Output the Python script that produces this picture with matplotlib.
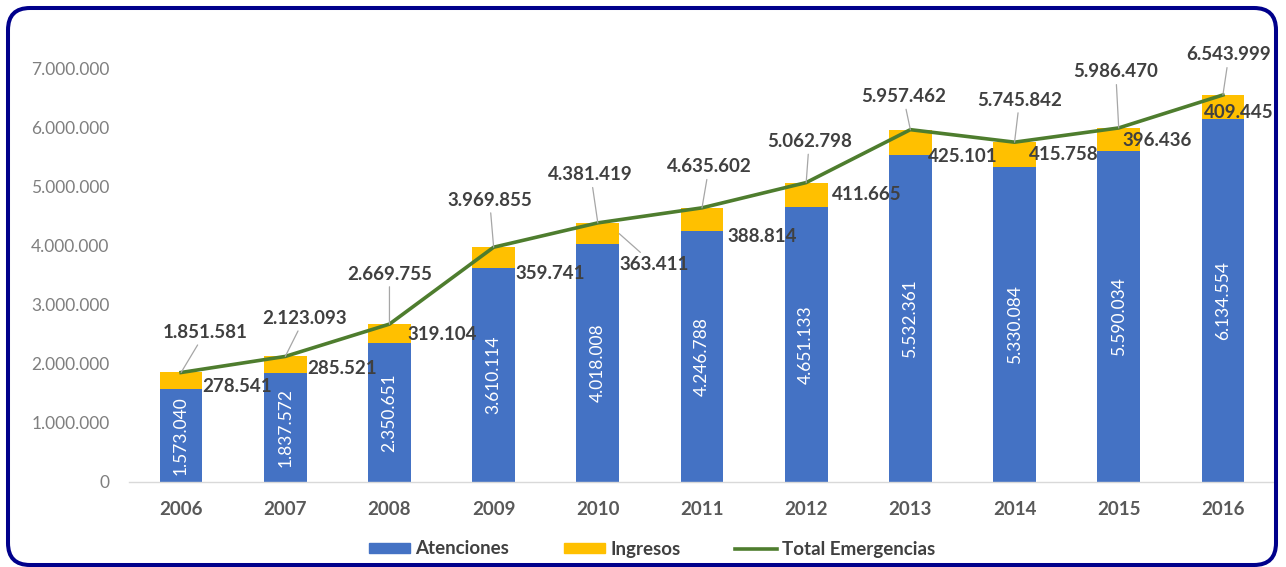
import matplotlib
matplotlib.use("Agg")
import matplotlib.pyplot as plt
from matplotlib.patches import FancyBboxPatch, Patch
from matplotlib.lines import Line2D
from matplotlib.transforms import IdentityTransform
from matplotlib.ticker import FuncFormatter

plt.rcParams["font.family"] = ["Lato", "DejaVu Sans"]

years = ["2006", "2007", "2008", "2009", "2010", "2011", "2012", "2013", "2014", "2015", "2016"]
atenciones = [1573040, 1837572, 2350651, 3610114, 4018008, 4246788, 4651133, 5532361, 5330084, 5590034, 6134554]
ingresos = [278541, 285521, 319104, 359741, 363411, 388814, 411665, 425101, 415758, 396436, 409445]
total = [1851581, 2123093, 2669755, 3969855, 4381419, 4635602, 5062798, 5957462, 5745842, 5986470, 6543999]

# label offsets in pixels (dx, dy)
total_off = [(24, 40), (19, 38), (0, 50), (-4, 47), (-7, 48), (7, 41), (3, 41), (-7, 33), (5, 42), (-3, 56), (6, 40)]
ing_off = [(0, 2), (1, 5), (-3, 8), (0, -5), (35, -31), (4, -6), (4, 12), (-4, -2), (-7, 12), (-18, 11), (-40, 7)]

blue = "#4472C4"
yellow = "#FFC000"
green = "#4E7D2E"
txt = "#404040"
lab_size = 13.5

def fmt(v):
    return f"{int(v):,}".replace(",", ".")

fig = plt.figure(figsize=(12.86, 5.67), dpi=100)
ax = fig.add_axes([129 / 1286, 85 / 567, 1146 / 1286, 414 / 567])

x = list(range(len(years)))
width = 0.41
ax.bar(x, atenciones, width, color=blue, zorder=2)
ax.bar(x, ingresos, width, bottom=atenciones, color=yellow, zorder=2)
ax.plot(x, total, color=green, lw=2.6, zorder=3, solid_joinstyle="round")

ax.set_xlim(-0.5, len(years) - 0.5)
ax.set_ylim(0, 7000000)
ax.set_yticks(range(0, 7000001, 1000000))
ax.yaxis.set_major_formatter(FuncFormatter(lambda v, p: fmt(v)))
ax.set_xticks(x)
ax.set_xticklabels(years, fontweight="bold", color="#595959")
ax.tick_params(axis="x", length=0, pad=14, labelsize=lab_size)
ax.tick_params(axis="y", length=0, pad=14, labelsize=12.5, colors="#7f7f7f")
for s in ["top", "right", "left"]:
    ax.spines[s].set_visible(False)
ax.spines["bottom"].set_color("#d9d9d9")
ax.spines["bottom"].set_linewidth(1)

lead = dict(arrowstyle="-", color="#a6a6a6", lw=0.9, shrinkA=1, shrinkB=0)

for i in x:
    # blue segment values, vertical
    ax.text(i, atenciones[i] / 2, fmt(atenciones[i]), rotation=90, ha="center", va="center",
            color="white", fontsize=12.5, zorder=4)
    # totals above the line
    dx, dy = total_off[i]
    ax.annotate(fmt(total[i]), xy=(i, total[i]), xytext=(dx, dy), textcoords="offset pixels",
                ha="center", va="center", fontsize=lab_size, fontweight="bold", color=txt,
                arrowprops=lead, annotation_clip=False, zorder=5)
    # ingresos to the right of the bar
    dx, dy = ing_off[i]
    if i == 4:
        ax.annotate(fmt(ingresos[i]), xy=(i + width / 2, atenciones[i] + ingresos[i] / 2),
                    xytext=(dx, dy), textcoords="offset pixels",
                    ha="center", va="center", fontsize=lab_size, fontweight="bold", color=txt,
                    arrowprops=lead, zorder=5)
    else:
        ax.annotate(fmt(ingresos[i]), xy=(i + width / 2, atenciones[i]), xytext=(dx, dy),
                    textcoords="offset pixels", ha="left", va="center", fontsize=lab_size,
                    fontweight="bold", color=txt, zorder=5)

handles = [Patch(color=blue), Patch(color=yellow), Line2D([], [], color=green, lw=2.6)]
labels = ["Atenciones", "Ingresos", "Total Emergencias"]
fig.legend(handles, labels, loc="center", bbox_to_anchor=(0.507, 1 - 549 / 567), ncol=3,
           frameon=False, prop={"weight": "bold", "size": 13.5},
           handlelength=2.2, handleheight=0.5, handletextpad=0.3, columnspacing=2.9,
           labelcolor=txt)

border = FancyBboxPatch((8, 2), 1268, 557, boxstyle="round,pad=0,rounding_size=22",
                        transform=IdentityTransform(), fill=False, edgecolor="#00008B",
                        linewidth=2.9)
fig.add_artist(border)

fig.savefig("out.png", dpi=100)
